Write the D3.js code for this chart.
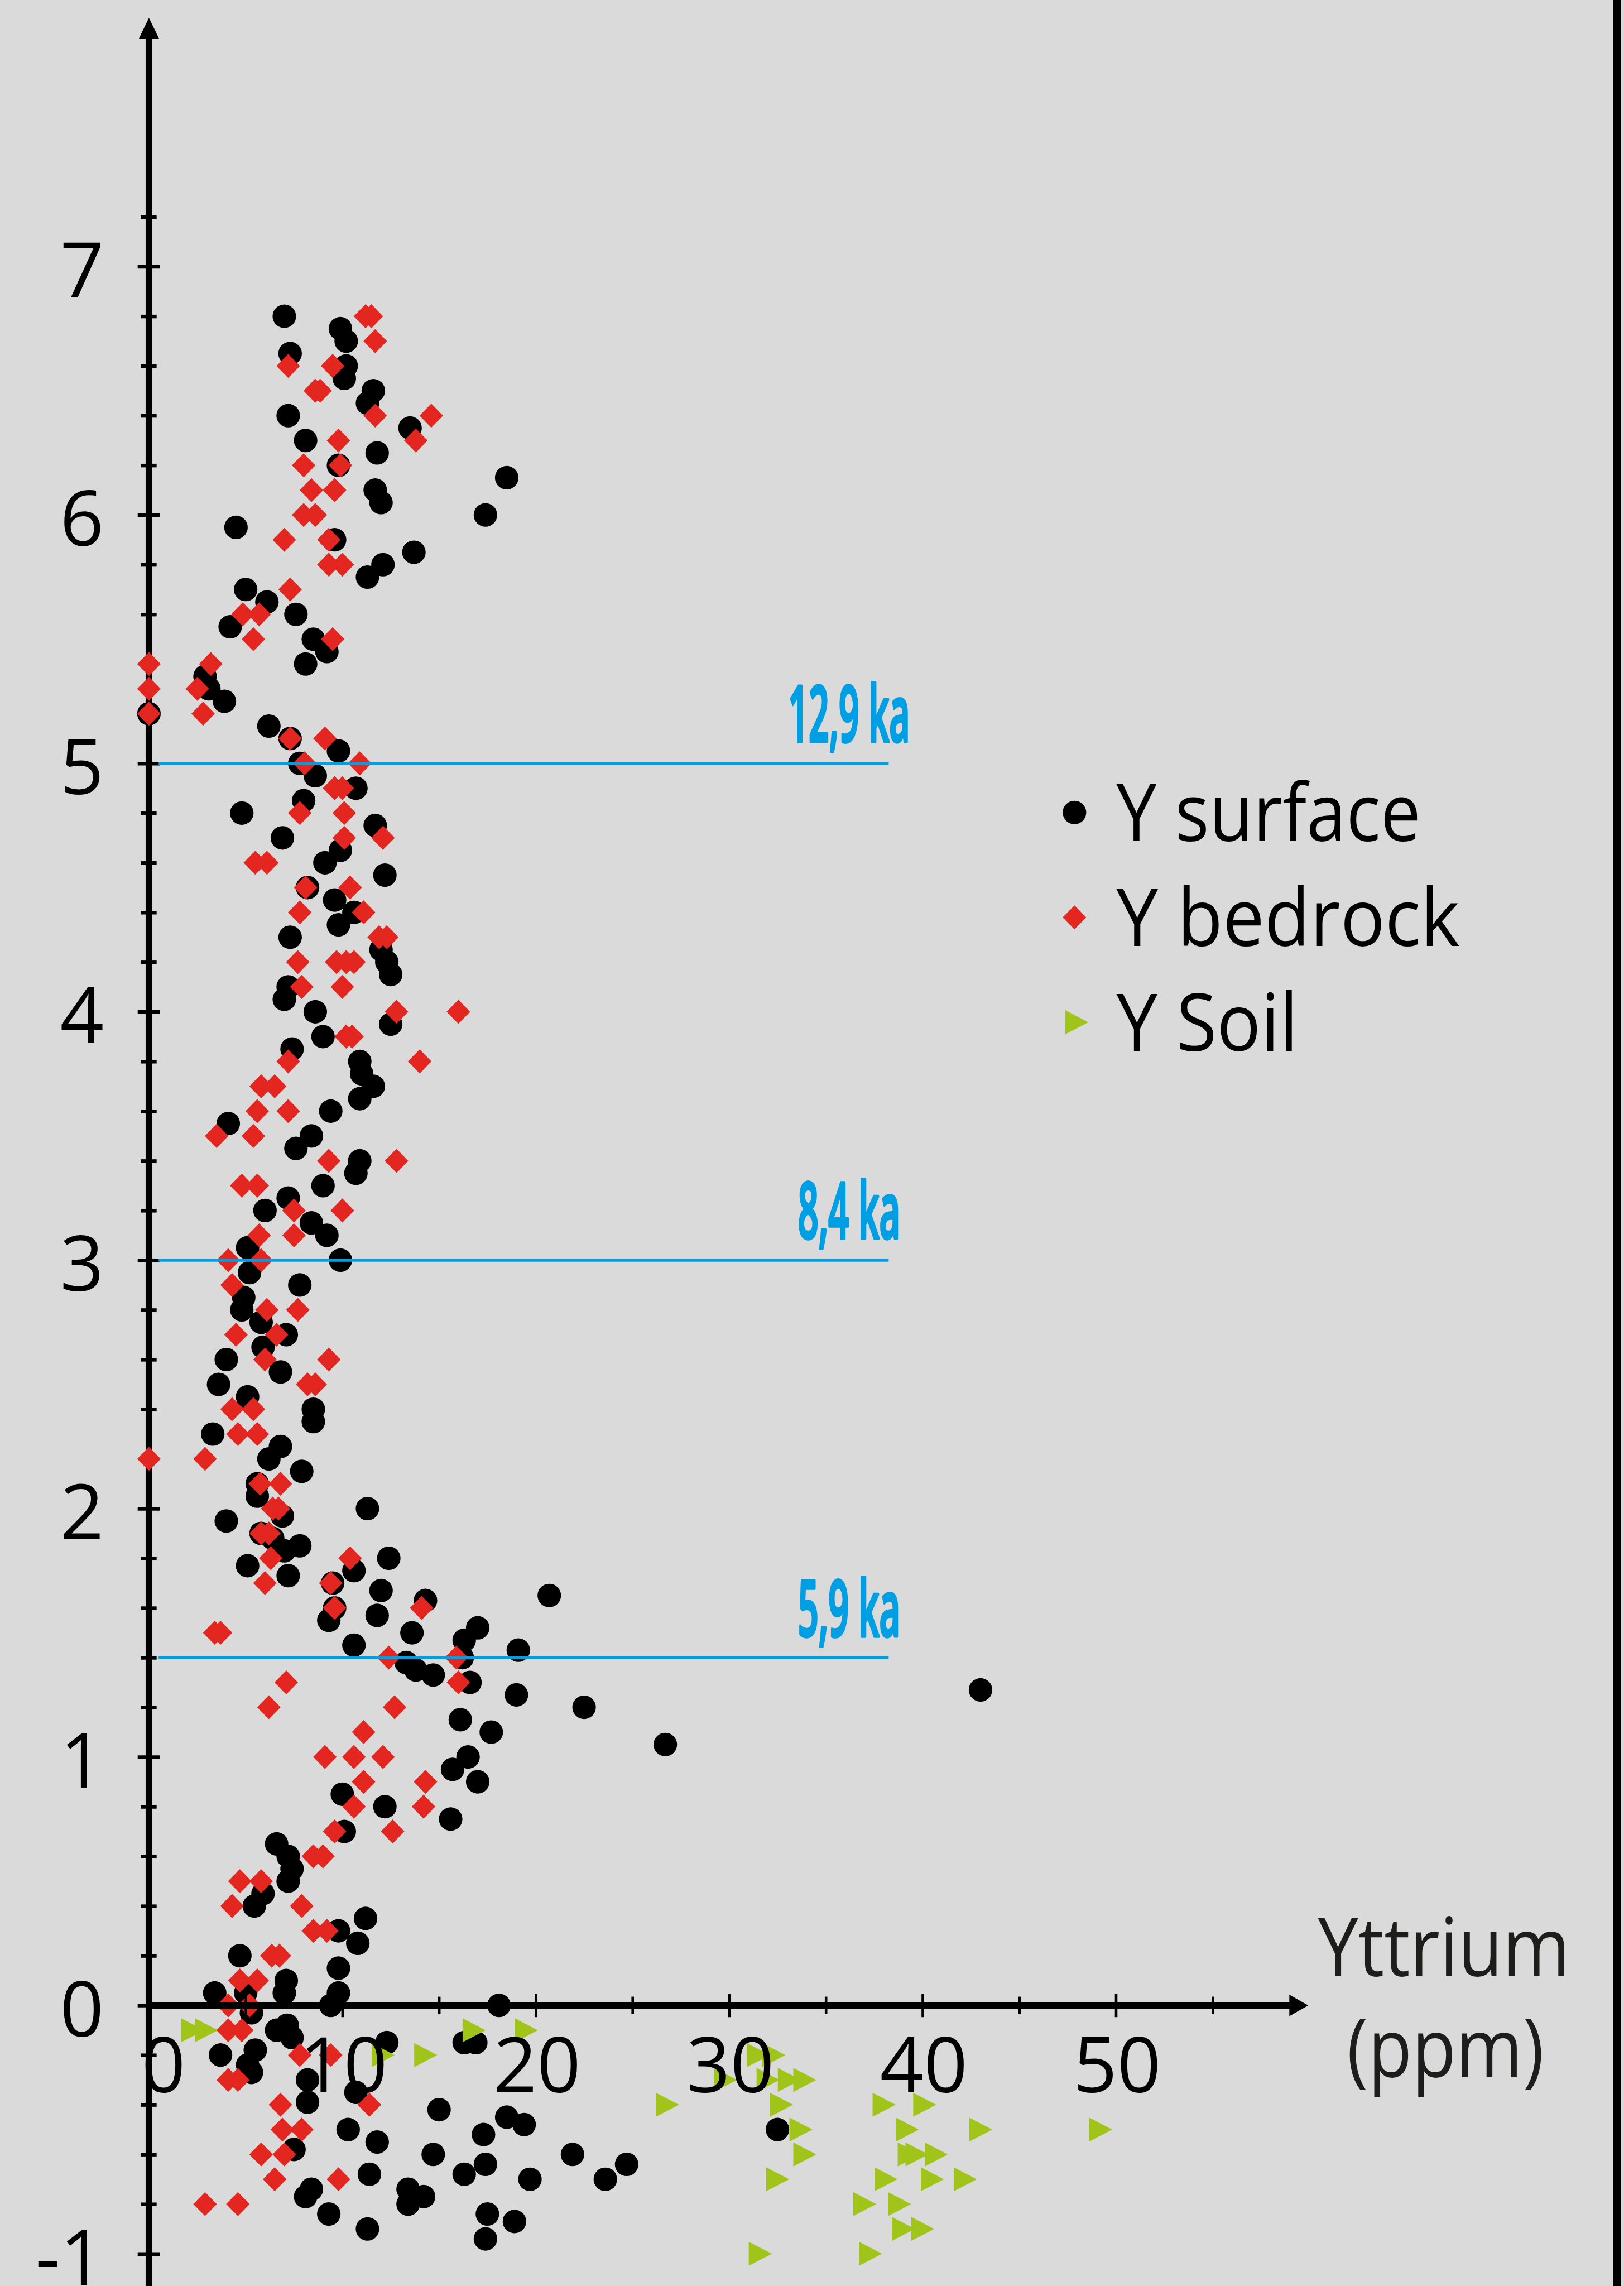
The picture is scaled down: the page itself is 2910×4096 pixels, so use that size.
<!DOCTYPE html>
<html>
<head>
<meta charset="utf-8">
<script src="https://d3js.org/d3.v7.min.js"></script>
<style>
html, body { margin: 0; padding: 0; background: #dadada; overflow: hidden; }
svg { display: block; }
</style>
</head>
<body>
<svg id="chart"></svg>
<script>
// Y surface (black circles): [ppm, depth]
var surface = [
  [7.0,6.8],[9.9,6.75],[10.2,6.7],[7.3,6.65],[10.2,6.6],[10.1,6.55],[11.6,6.5],[11.3,6.45],[7.2,6.4],[13.5,6.35],
  [8.1,6.3],[11.8,6.25],[9.8,6.2],[18.5,6.15],[11.7,6.1],[12.0,6.05],[17.4,6.0],[4.5,5.95],[9.6,5.9],[13.7,5.85],
  [12.1,5.8],[11.3,5.75],[5.0,5.7],[6.1,5.65],[7.6,5.6],[4.2,5.55],[8.5,5.5],[9.2,5.45],[8.1,5.4],[2.9,5.35],
  [3.1,5.3],[3.9,5.25],[0,5.2],[6.2,5.15],[7.3,5.1],[9.8,5.05],[7.8,5.0],[8.6,4.95],[10.7,4.9],[8.0,4.85],
  [4.8,4.8],[11.7,4.75],[6.9,4.7],[9.9,4.65],[9.1,4.6],[12.2,4.55],[8.2,4.5],[9.6,4.45],[10.6,4.4],[9.8,4.35],
  [7.3,4.3],[12.0,4.25],[12.3,4.2],[12.5,4.15],[7.2,4.1],[7.0,4.05],[8.6,4.0],[12.5,3.95],[9.0,3.9],[7.4,3.85],
  [10.9,3.8],[11.0,3.75],[11.6,3.7],[10.9,3.65],[9.4,3.6],[4.1,3.55],[8.4,3.5],[7.6,3.45],[10.9,3.4],[10.7,3.35],
  [9.0,3.3],[7.2,3.25],[6.0,3.2],[8.4,3.15],[9.2,3.1],[5.1,3.05],[9.9,3.0],[5.2,2.95],[7.8,2.9],[4.9,2.85],
  [4.8,2.8],[5.8,2.75],[7.1,2.7],[5.9,2.65],[4.0,2.6],[6.8,2.55],[3.6,2.5],[5.1,2.45],[8.5,2.4],[8.5,2.35],
  [3.3,2.3],[6.8,2.25],[6.2,2.2],[7.9,2.15],[5.6,2.1],[5.6,2.05],[11.3,2.0],[4.0,1.95],[6.9,1.97],[5.8,1.9],
  [6.4,1.88],[7.8,1.85],[7.0,1.83],[5.1,1.77],[7.2,1.73],[12.4,1.8],[10.6,1.75],[9.5,1.7],[12.0,1.67],[20.7,1.65],
  [14.3,1.63],[9.6,1.6],[11.8,1.57],[9.3,1.55],[17.0,1.52],[13.6,1.5],[16.3,1.47],[10.6,1.45],[19.1,1.43],[16.2,1.4],
  [13.3,1.38],[13.8,1.35],[14.7,1.33],[16.6,1.3],[43.0,1.27],[19.0,1.25],[22.5,1.2],[16.1,1.15],[17.7,1.1],[26.7,1.05],
  [16.5,1.0],[15.7,0.95],[17.0,0.9],[10.0,0.85],[12.2,0.8],[15.6,0.75],[10.1,0.7],[6.6,0.65],[7.2,0.6],[7.4,0.55],
  [7.2,0.5],[5.9,0.45],[5.45,0.4],[11.2,0.35],[9.8,0.3],[10.8,0.25],[4.7,0.2],[9.8,0.15],[7.1,0.1],[3.4,0.05],
  [9.8,0.05],[5.0,0.05],[7.0,0.05],[9.4,0.0],[18.1,0.0],[5.3,-0.03],[7.15,-0.08],[6.6,-0.1],[7.4,-0.13],[12.3,-0.15],
  [16.3,-0.15],[16.9,-0.15],[5.5,-0.18],[3.7,-0.2],[5.1,-0.24],[5.3,-0.27],[8.2,-0.3],[10.7,-0.35],[8.2,-0.39],[15.0,-0.42],
  [18.5,-0.45],[19.4,-0.48],[17.3,-0.52],[10.3,-0.5],[11.8,-0.55],[7.5,-0.58],[14.7,-0.6],[21.9,-0.6],[17.4,-0.64],[24.7,-0.64],
  [16.3,-0.68],[11.4,-0.68],[19.7,-0.7],[23.6,-0.7],[8.4,-0.74],[8.1,-0.77],[13.4,-0.74],[14.2,-0.77],[13.4,-0.8],[9.3,-0.84],
  [17.5,-0.84],[18.9,-0.87],[11.3,-0.9],[17.4,-0.94],[32.5,-0.5]
];

// Y bedrock (red diamonds)
var bedrock = [
  [11.2,6.8],[11.5,6.8],[11.7,6.7],[7.2,6.6],[9.5,6.6],[8.6,6.5],[8.85,6.5],[11.7,6.4],[14.6,6.4],[13.8,6.3],
  [9.8,6.3],[8.0,6.2],[9.9,6.2],[8.4,6.1],[9.6,6.1],[8.0,6.0],[8.6,6.0],[7.0,5.9],[9.3,5.9],[9.3,5.8],
  [10.0,5.8],[7.3,5.7],[4.85,5.6],[5.7,5.6],[5.4,5.5],[9.5,5.5],[0,5.4],[3.2,5.4],[0,5.3],[2.5,5.3],
  [0,5.2],[2.8,5.2],[7.3,5.1],[9.1,5.1],[8.05,5.0],[10.9,5.0],[9.6,4.9],[10.0,4.9],[7.8,4.8],[10.1,4.8],
  [10.1,4.7],[12.1,4.7],[5.5,4.6],[6.1,4.6],[8.1,4.5],[10.4,4.5],[7.8,4.4],[11.1,4.4],[11.9,4.3],[12.3,4.3],
  [7.7,4.2],[9.7,4.2],[10.2,4.2],[10.6,4.2],[7.9,4.1],[10.0,4.1],[12.8,4.0],[16.0,4.0],[10.2,3.9],[10.5,3.9],
  [7.2,3.8],[14.0,3.8],[5.8,3.7],[6.5,3.7],[5.6,3.6],[7.2,3.6],[3.5,3.5],[5.4,3.5],[9.3,3.4],[12.8,3.4],
  [4.8,3.3],[5.6,3.3],[7.5,3.2],[10.0,3.2],[5.7,3.1],[7.5,3.1],[4.1,3.0],[5.8,3.0],[4.3,2.9],[6.1,2.8],
  [7.7,2.8],[4.5,2.7],[6.6,2.7],[6.0,2.6],[9.3,2.6],[8.2,2.5],[8.6,2.5],[4.3,2.4],[5.4,2.4],[4.6,2.3],
  [5.6,2.3],[0,2.2],[2.9,2.2],[5.75,2.1],[6.8,2.1],[6.4,2.0],[6.7,2.0],[5.8,1.9],[6.2,1.9],[6.3,1.8],
  [10.4,1.8],[6.0,1.7],[9.4,1.7],[9.6,1.6],[14.1,1.6],[3.4,1.5],[3.7,1.5],[12.4,1.4],[15.9,1.4],[7.1,1.3],
  [16.0,1.3],[6.2,1.2],[12.7,1.2],[11.1,1.1],[9.1,1.0],[10.6,1.0],[12.1,1.0],[11.1,0.9],[14.3,0.9],[10.6,0.8],
  [14.2,0.8],[9.6,0.7],[12.6,0.7],[8.5,0.6],[9.0,0.6],[4.7,0.5],[5.8,0.5],[4.3,0.4],[7.9,0.4],[8.5,0.3],
  [9.2,0.3],[6.35,0.2],[6.75,0.2],[4.7,0.1],[5.6,0.1],[4.1,0.0],[5.2,0.0],[4.1,-0.1],[4.8,-0.1],[7.8,-0.2],
  [9.4,-0.2],[4.1,-0.3],[4.6,-0.3],[6.8,-0.4],[11.4,-0.4],[6.9,-0.5],[7.9,-0.5],[5.8,-0.6],[7.0,-0.6],[6.5,-0.7],
  [9.8,-0.7],[2.9,-0.8],[4.6,-0.8]
];

// Y Soil (green triangles)
var soil = [
  [2.25,-0.1],[2.96,-0.1],[16.8,-0.1],[19.5,-0.1],[12.1,-0.2],[14.3,-0.2],[31.5,-0.2],[32.3,-0.2],
  [29.8,-0.3],[32.0,-0.3],[33.1,-0.3],[33.9,-0.3],[26.8,-0.4],[32.7,-0.4],[38.0,-0.4],[40.1,-0.4],
  [33.7,-0.5],[39.2,-0.5],[43.0,-0.5],[49.2,-0.5],[33.9,-0.6],[39.3,-0.6],[39.7,-0.6],[40.7,-0.6],
  [32.5,-0.7],[38.1,-0.7],[40.5,-0.7],[42.2,-0.7],[37.0,-0.8],[38.8,-0.8],[39.0,-0.9],[40.0,-0.9],
  [31.6,-1.0],[37.3,-1.0]
];

var xTickLabels = [0, 10, 20, 30, 40, 50];
var yTickLabels = [-1, 0, 1, 2, 3, 4, 5, 6, 7];
var ageLabels = ['12,9 ka', '8,4 ka', '5,9 ka'];
var ageDepths = [5, 3, 1.4];
var legendNames = ['Y surface', 'Y bedrock', 'Y Soil'];

var W = 3174, H = 4468;
var font = "'Open Sans', 'Noto Sans', sans-serif";
var red = '#e3261f', green = '#a1c41b', blue = '#009fe3';

var svg = d3.select('#chart')
  .attr('width', 2910)
  .attr('height', 4096)
  .attr('viewBox', '0 0 ' + W + ' ' + H);

svg.append('rect').attr('width', W).attr('height', H).attr('fill', '#dadada');
svg.append('rect').attr('x', 3153).attr('y', 0).attr('width', 15).attr('height', H).attr('fill', '#000');

var x = d3.scaleLinear().domain([0, 50]).range([291, 2181]);
var y = d3.scaleLinear().domain([-1, 7]).range([4405, 521]);

var isMajor = function(d) { return Math.abs(d - Math.round(d)) < 1e-6; };

// y axis: line + arrow, ticks every 0.2 crossing the line
svg.append('line')
  .attr('x1', x(0)).attr('x2', x(0))
  .attr('y1', H).attr('y2', 74)
  .attr('stroke', '#000').attr('stroke-width', 13);
svg.append('path')
  .attr('d', 'M' + x(0) + ',35 L' + (x(0) - 20) + ',76 L' + (x(0) + 20) + ',76 Z')
  .attr('fill', '#000');

var yMinor = d3.range(-1, 7.21, 0.2).map(function(d) { return Math.round(d * 10) / 10; });
var yAxis = svg.append('g')
  .attr('transform', 'translate(' + x(0) + ',0)')
  .call(d3.axisLeft(y).tickValues(yMinor).tickSize(0).tickFormat(''));
yAxis.select('.domain').remove();
yAxis.selectAll('.tick line')
  .attr('x1', function(d) { return isMajor(d) ? -22 : -16; })
  .attr('x2', function(d) { return isMajor(d) ? 21 : 15; })
  .attr('stroke', '#000').attr('stroke-width', 7);

var yLab = svg.append('g')
  .attr('transform', 'translate(' + x(0) + ',0)')
  .call(d3.axisLeft(y).tickValues(yTickLabels).tickSize(0).tickPadding(88)
    .tickFormat(function(d) { return String(d); }));
yLab.select('.domain').remove();
yLab.selectAll('text')
  .attr('dy', '0.4em')
  .style('font-family', font).style('font-size', '150px').attr('fill', '#000');

// markers
var circleSym = d3.symbol().type(d3.symbolCircle).size(Math.PI * 23 * 23);
var diamondSym = { draw: function(c) { c.moveTo(0, -23.5); c.lineTo(23, 0); c.lineTo(0, 23.5); c.lineTo(-23, 0); c.closePath(); } };
var triSym = { draw: function(c) { c.moveTo(-22, -23.5); c.lineTo(23, 0); c.lineTo(-22, 23.5); c.closePath(); } };

svg.append('g').selectAll('path').data(surface).join('path')
  .attr('d', circleSym)
  .attr('transform', function(d) { return 'translate(' + x(d[0]) + ',' + y(d[1]) + ')'; })
  .attr('fill', '#000');

svg.append('g').selectAll('path').data(bedrock).join('path')
  .attr('d', d3.symbol().type(diamondSym))
  .attr('transform', function(d) { return 'translate(' + x(d[0]) + ',' + y(d[1]) + ')'; })
  .attr('fill', red);

svg.append('g').selectAll('path').data(soil).join('path')
  .attr('d', d3.symbol().type(triSym))
  .attr('transform', function(d) { return 'translate(' + x(d[0]) + ',' + y(d[1]) + ')'; })
  .attr('fill', green);

// x axis: line + arrow, ticks every 5
svg.append('line')
  .attr('x1', x(0) - 6).attr('x2', 2522)
  .attr('y1', y(0)).attr('y2', y(0))
  .attr('stroke', '#000').attr('stroke-width', 13);
svg.append('path')
  .attr('d', 'M2557,' + y(0) + ' L2520,' + (y(0) - 21) + ' L2520,' + (y(0) + 21) + ' Z')
  .attr('fill', '#000');

var xMinor = d3.range(5, 56, 5);
var xAxis = svg.append('g')
  .attr('transform', 'translate(0,' + y(0) + ')')
  .call(d3.axisBottom(x).tickValues(xMinor).tickSize(0).tickFormat(''));
xAxis.select('.domain').remove();
xAxis.selectAll('.tick line')
  .attr('y1', function(d) { return d % 10 === 0 ? -22 : -17; })
  .attr('y2', function(d) { return d % 10 === 0 ? 23 : 17; })
  .attr('stroke', '#000').attr('stroke-width', 5);

var xLab = svg.append('g')
  .attr('transform', 'translate(0,' + y(0) + ')')
  .call(d3.axisBottom(x).tickValues(xTickLabels).tickSize(0).tickPadding(64)
    .tickFormat(function(d) { return String(d); }));
xLab.select('.domain').remove();
xLab.selectAll('text')
  .attr('x', function(d) { return d === 0 ? 28 : 2; })
  .style('font-family', font).style('font-size', '150px').attr('fill', '#000');

svg.append('text')
  .attr('x', 2822).attr('y', 3863)
  .attr('text-anchor', 'middle')
  .attr('textLength', 493).attr('lengthAdjust', 'spacingAndGlyphs')
  .style('font-family', font).style('font-size', '160px').attr('fill', '#1d1d1b')
  .text('Yttrium');
svg.append('text')
  .attr('x', 2825).attr('y', 4060)
  .attr('text-anchor', 'middle')
  .attr('textLength', 385).attr('lengthAdjust', 'spacingAndGlyphs')
  .style('font-family', font).style('font-size', '160px').attr('fill', '#1d1d1b')
  .text('(ppm)');

// age lines
var ages = svg.append('g');
ageDepths.forEach(function(v, i) {
  ages.append('line')
    .attr('x1', x(0.5)).attr('x2', x(38.25))
    .attr('y1', y(v)).attr('y2', y(v))
    .attr('stroke', blue).attr('stroke-width', 6);
  ages.append('text')
    .attr('x', x(36.2)).attr('y', y(v) - 42)
    .attr('text-anchor', 'middle')
    .attr('textLength', i === 0 ? 238 : 200).attr('lengthAdjust', 'spacingAndGlyphs')
    .style('font-family', font).style('font-size', '152px').style('font-weight', 600)
    .attr('fill', blue).attr('stroke', blue).attr('stroke-width', 6).attr('stroke-linejoin', 'round')
    .text(ageLabels[i]);
});

// legend
var legendSyms = [circleSym, d3.symbol().type(diamondSym), d3.symbol().type(triSym)];
var legendFills = ['#000', red, green];
var legendWidths = [595, 671, 355];
var legend = svg.append('g');
legendNames.forEach(function(name, i) {
  var cy = 1588 + i * 205;
  legend.append('path')
    .attr('d', legendSyms[i])
    .attr('transform', 'translate(' + (i === 2 ? 2104 : 2100) + ',' + cy + ')')
    .attr('fill', legendFills[i]);
  legend.append('text')
    .attr('x', 2182).attr('y', cy + 56)
    .attr('textLength', legendWidths[i]).attr('lengthAdjust', 'spacingAndGlyphs')
    .style('font-family', font).style('font-size', '155px').attr('fill', '#000')
    .text(name);
});
</script>
</body>
</html>
